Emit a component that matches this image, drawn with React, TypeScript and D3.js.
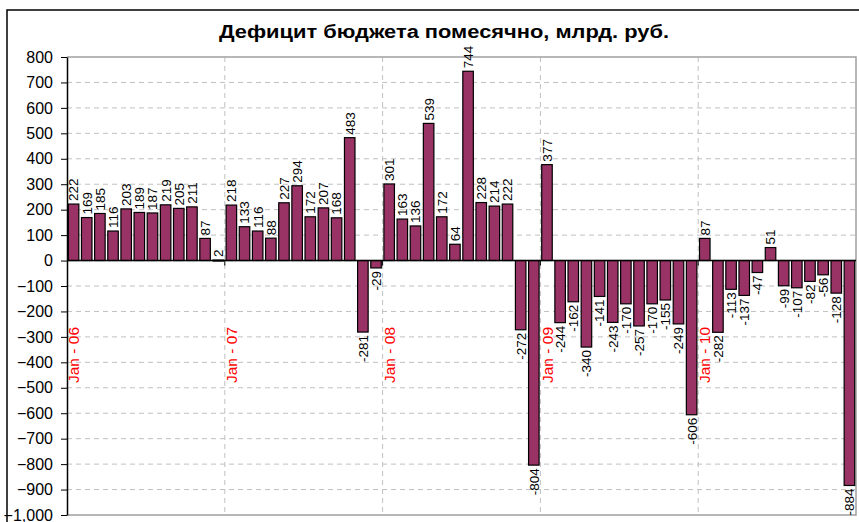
import { useEffect, useRef } from 'react';
import * as d3 from 'd3';

// monthly values, Jan 2006 .. Dec 2010
const values2006 = [222, 169, 185, 116, 203, 189, 187, 219, 205, 211, 87, 2];
const values2007 = [218, 133, 116, 88, 227, 294, 172, 207, 168, 483, -281, -29];
const values2008 = [301, 163, 136, 539, 172, 64, 744, 228, 214, 222, -272, -804];
const values2009 = [377, -244, -162, -340, -141, -243, -170, -257, -170, -155, -249, -606];
const values2010 = [87, -282, -113, -137, -47, 51, -99, -107, -82, -56, -128, -884];

const years = ['06', '07', '08', '09', '10'];
const yTicks = d3.range(-1000, 801, 100);

const values = [...values2006, ...values2007, ...values2008, ...values2009, ...values2010];
const months = values.map((v, i) => ({ idx: i, value: v }));

const FONT = '"Liberation Sans", Arial, sans-serif';

export default function App() {
  const ref = useRef<SVGSVGElement>(null);

  useEffect(() => {
    if (!ref.current) return;
    const svg = d3.select(ref.current);
    svg.selectAll('*').remove();

    const width = 859;
    const height = 522;
    const plot = { left: 67, right: 856, top: 57, bottom: 515 };

    svg.attr('width', width).attr('height', height);

    svg.append('rect')
      .attr('width', width).attr('height', height)
      .attr('fill', 'white');

    // outer chart frame
    svg.append('rect')
      .attr('x', 7).attr('y', 10)
      .attr('width', 880).attr('height', 540)
      .attr('fill', 'none')
      .attr('stroke', '#000')
      .attr('stroke-width', 1.5);

    // title (source image is stretched horizontally a bit)
    svg.append('text')
      .attr('transform', 'translate(444,38) scale(1.15,1)')
      .attr('text-anchor', 'middle')
      .attr('font-family', FONT)
      .attr('font-weight', 'bold')
      .attr('font-size', '19px')
      .attr('fill', '#000')
      .text('Дефицит бюджета помесячно, млрд. руб.');

    const x = d3.scaleBand<number>()
      .domain(months.map(d => d.idx))
      .range([plot.left, plot.right])
      .paddingInner(0.2)
      .paddingOuter(0.1);

    const y = d3.scaleLinear()
      .domain([-1000, 800])
      .range([plot.bottom, plot.top]);

    const step = x.step();
    const boundary = (i: number) => plot.left + i * step;

    // horizontal grid
    svg.append('g')
      .selectAll('line')
      .data(yTicks.filter(t => t !== 0 && t !== -1000 && t !== 800))
      .enter()
      .append('line')
      .attr('x1', plot.left).attr('x2', plot.right)
      .attr('y1', d => y(d)).attr('y2', d => y(d))
      .attr('stroke', '#c0c0c0')
      .attr('stroke-width', 1)
      .attr('stroke-dasharray', '5,4');

    // vertical grid at year boundaries
    svg.append('g')
      .selectAll('line')
      .data(years.slice(1).map((_, i) => (i + 1) * 12))
      .enter()
      .append('line')
      .attr('x1', d => boundary(d)).attr('x2', d => boundary(d))
      .attr('y1', plot.top).attr('y2', plot.bottom)
      .attr('stroke', '#c0c0c0')
      .attr('stroke-width', 1)
      .attr('stroke-dasharray', '5,4');

    // plot border (top, right, bottom)
    svg.append('path')
      .attr('d', `M${plot.left},${plot.top}H${plot.right}V${plot.bottom}H${plot.left}`)
      .attr('fill', 'none')
      .attr('stroke', '#a0a0a0')
      .attr('stroke-width', 1.5);

    // bars
    svg.append('g')
      .selectAll('rect')
      .data(months)
      .enter()
      .append('rect')
      .attr('x', d => x(d.idx)!)
      .attr('width', x.bandwidth())
      .attr('y', d => y(Math.max(0, d.value)))
      .attr('height', d => Math.max(1, Math.abs(y(d.value) - y(0))))
      .attr('fill', '#993366')
      .attr('stroke', '#000')
      .attr('stroke-width', 1.2);

    // zero line
    svg.append('line')
      .attr('x1', plot.left).attr('x2', plot.right)
      .attr('y1', y(0)).attr('y2', y(0))
      .attr('stroke', '#000')
      .attr('stroke-width', 1.5);

    // small ticks at year boundaries on the zero line
    svg.append('g')
      .selectAll('line')
      .data(years.slice(1).map((_, i) => (i + 1) * 12))
      .enter()
      .append('line')
      .attr('x1', d => boundary(d)).attr('x2', d => boundary(d))
      .attr('y1', y(0)).attr('y2', y(0) + 5)
      .attr('stroke', '#000')
      .attr('stroke-width', 1);

    // y axis
    const yAxis = svg.append('g')
      .attr('transform', `translate(${plot.left},0)`)
      .call(d3.axisLeft(y).tickValues(yTicks).tickSize(6).tickPadding(8).tickSizeOuter(0));
    yAxis.select('.domain').attr('stroke', '#000').attr('stroke-width', 1.5);
    yAxis.selectAll('.tick line').attr('stroke', '#000');
    yAxis.selectAll('.tick text')
      .attr('font-family', FONT)
      .attr('font-size', '16px')
      .attr('fill', '#000');

    // data labels
    svg.append('g')
      .selectAll('text')
      .data(months)
      .enter()
      .append('text')
      .attr('transform', d => {
        const cx = x(d.idx)! + x.bandwidth() / 2;
        const yy = d.value >= 0 ? y(d.value) - 3 : y(d.value) + 3;
        return `translate(${cx},${yy}) rotate(-90)`;
      })
      .attr('dy', '0.36em')
      .attr('text-anchor', d => (d.value >= 0 ? 'start' : 'end'))
      .attr('font-family', FONT)
      .attr('font-size', '13.5px')
      .attr('fill', '#000')
      .text(d => String(d.value));

    // year labels
    svg.append('g')
      .selectAll('text')
      .data(years)
      .enter()
      .append('text')
      .attr('transform', (_, i) => {
        const cx = x(i * 12)! + x.bandwidth() / 2;
        return `translate(${cx},383) rotate(-90)`;
      })
      .attr('dy', '0.36em')
      .attr('text-anchor', 'start')
      .attr('font-family', FONT)
      .attr('font-size', '15.5px')
      .attr('fill', '#ff0000')
      .text(d => `Jan - ${d}`);
  }, []);

  return (
    <div style={{ position: 'absolute', left: 0, top: 0 }}>
      <svg ref={ref}></svg>
    </div>
  );
}
